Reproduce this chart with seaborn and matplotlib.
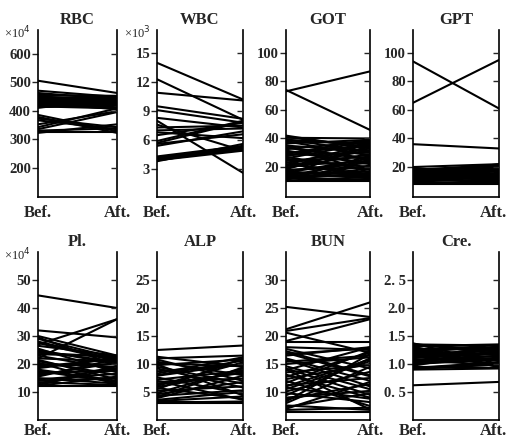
import pandas as pd
import numpy as np
import matplotlib
matplotlib.use("Agg")
import matplotlib.pyplot as plt
import matplotlib.transforms as mtransforms
import seaborn as sns

# Values before / after for each panel
rbc_bef = [505, 470, 462, 455, 450, 447, 444, 441, 438, 436, 433, 430, 428, 425, 422,
           420, 417, 415, 412, 410, 385, 378, 372, 366, 352, 342, 335, 330, 326, 322,
           448, 443, 437, 431, 427, 421, 416, 413]
rbc_aft = [462, 448, 440, 452, 436, 445, 430, 450, 425, 441, 418, 438, 446, 412, 434,
           428, 444, 408, 426, 440, 328, 322, 342, 335, 398, 408, 395, 338, 326, 352,
           432, 448, 421, 443, 405, 437, 449, 420]

wbc_bef = [14.0, 12.3, 10.9, 9.5, 9.1, 8.3, 8.0, 7.6, 7.3, 7.0, 6.8, 6.5, 5.9, 5.7,
           5.6, 5.4, 4.3, 4.2, 4.1, 4.0, 3.9, 3.9, 3.8]
wbc_aft = [10.2, 8.1, 10.1, 8.2, 7.8, 7.3, 2.6, 4.9, 7.5, 7.2, 6.2, 7.8, 8.0, 7.9,
           6.6, 6.9, 5.4, 5.2, 5.0, 5.3, 5.1, 4.9, 5.6]

got_bef = [73, 74, 42, 40.5, 39, 38, 36.5, 35, 34, 32.5, 31, 30, 28.5, 27, 26, 24.5,
           23, 22, 21, 19.5, 18, 17, 16, 15, 14, 13, 12.5, 11.5, 10.5, 10,
           41, 37.5, 33.5, 29, 25.5, 20.5, 17.5, 14.5, 12, 11, 39.5, 35.5, 27.5, 23.5,
           18.5, 13.5, 10.2, 31.5, 21.5, 16.5]
got_aft = [87, 46, 33, 40, 36, 28, 39, 31, 25, 38, 22, 35, 30, 18, 37, 27, 33, 15,
           24, 29, 20, 12, 26, 17, 14, 21, 11, 16, 13, 10,
           34, 37, 26, 39.5, 20, 32, 23, 35, 19, 28, 30.5, 16, 38.5, 12.5,
           34.5, 25, 11.5, 22.5, 36, 14.5]

gpt_bef = [94, 65, 36, 20, 19, 18.5, 17.5, 17, 16, 15.5, 14.5, 14, 13, 12.5, 11.5,
           11, 10, 9.5, 8.5, 8, 19.5, 18, 16.5, 15, 13.5, 12, 10.5, 9, 8.2, 17.8,
           14.8, 11.2]
gpt_aft = [61, 95, 33, 22, 15, 19, 12, 21, 17, 10, 20, 14, 18, 9, 16, 13, 11, 19.5,
           8.5, 8, 13.5, 21.5, 9.5, 18.5, 20.5, 15.5, 12.5, 17.5, 10.5, 11.5,
           22, 14.5]

pl_bef = [44.5, 32, 27, 22, 30, 29, 28, 26.5, 25, 24, 23, 22, 21, 20, 19, 18, 17, 16,
          15, 14, 13.5, 12.5, 12, 29.5, 27.5, 25.5, 23.5, 21.5, 19.5, 17.5, 15.5,
          14.5, 13, 12.2, 20.5, 18.5, 16.5, 24.5]
pl_aft = [40, 29.5, 36, 36, 23, 22, 21.5, 23, 20, 22.5, 18, 21, 16, 19, 22, 14, 17.5,
          20.5, 13, 15, 12.5, 18.5, 12, 19.5, 21, 17, 22.8, 14.5, 20, 13.5, 21.8,
          16.5, 19.2, 15.5, 12.8, 22, 18, 20.8]

alp_bef = [12.5, 11.3, 11.0, 10.4, 9.8, 9.5, 8.7, 8.3, 7.6, 7.2, 6.8, 6.1, 5.7, 5.2,
           4.8, 4.3, 3.9, 3.4, 3.1, 3.0, 10.8, 10.1, 9.2, 8.0, 7.0, 6.4, 5.5, 4.6,
           4.1, 3.6, 9.9, 7.9, 5.9, 3.2]
alp_aft = [13.3, 9.5, 11.5, 8.0, 10.8, 6.5, 9.9, 11.2, 4.7, 8.8, 7.4, 10.3, 3.8, 6.0,
           9.2, 5.3, 7.9, 4.2, 3.3, 3.0, 7.0, 9.6, 5.8, 10.6, 3.6, 8.4, 11.0, 6.8,
           9.4, 5.0, 4.4, 10.0, 8.6, 3.2]

bun_bef = [25.2, 21.2, 20.9, 20.6, 19.1, 18.9, 18.0, 17.3, 16.5, 15.8, 15.0, 14.2,
           13.5, 12.7, 12.0, 11.2, 10.5, 9.8, 9.0, 8.3, 7.6, 7.0, 6.5,
           17.7, 16.8, 16.0, 15.4, 14.6, 13.9, 13.1, 12.3, 11.6, 10.8, 10.1, 9.4,
           8.7, 8.0, 7.3, 6.8, 17.0, 14.0, 11.0]
bun_aft = [23.4, 26.0, 23.2, 17.0, 23.0, 18.9, 17.5, 13.0, 18.0, 11.0, 16.2, 9.5,
           14.8, 17.0, 7.5, 12.5, 15.5, 8.2, 10.2, 16.8, 6.8, 11.8, 6.5,
           14.2, 17.8, 12.0, 16.5, 10.5, 18.0, 9.0, 15.0, 17.3, 8.8, 13.6, 16.0,
           11.4, 14.5, 9.8, 7.2, 12.8, 6.9, 15.8]

cre_bef = [0.62, 1.37, 1.35, 1.32, 1.30, 1.27, 1.25, 1.22, 1.2, 1.17, 1.15, 1.12,
           1.1, 1.07, 1.05, 1.02, 1.0, 0.97, 0.95, 0.92, 0.9,
           1.36, 1.33, 1.28, 1.23, 1.18, 1.13, 1.08, 1.03, 0.98, 0.93, 1.31, 1.21,
           1.11, 1.01, 0.91]
cre_aft = [0.68, 1.0, 1.33, 1.35, 1.05, 1.28, 0.95, 1.3, 1.12, 1.25, 1.0, 1.2, 1.32,
           0.98, 1.15, 1.1, 1.08, 1.22, 0.93, 1.02, 0.92,
           1.18, 1.27, 0.97, 1.34, 1.06, 1.29, 1.14, 1.24, 1.31, 1.03, 0.94, 1.17,
           1.26, 1.09, 0.99]

panels = [
    ("RBC", rbc_bef, rbc_aft, (97, 683), [200, 300, 400, 500, 600], None, "×10$^4$"),
    ("WBC", wbc_bef, wbc_aft, (0.1, 17.4), [3, 6, 9, 12, 15], None, "×10$^3$"),
    ("GOT", got_bef, got_aft, (-1, 116), [20, 40, 60, 80, 100], None, None),
    ("GPT", gpt_bef, gpt_aft, (-1, 116), [20, 40, 60, 80, 100], None, None),
    ("Pl.", pl_bef, pl_aft, (0, 60), [10, 20, 30, 40, 50], None, "×10$^4$"),
    ("ALP", alp_bef, alp_aft, (0, 30), [5, 10, 15, 20, 25], None, None),
    ("BUN", bun_bef, bun_aft, (5, 35), [10, 15, 20, 25, 30], None, None),
    ("Cre.", cre_bef, cre_aft, (0, 3), [0.5, 1.0, 1.5, 2.0, 2.5],
     ["0. 5", "1.0", "1.5", "2.0", "2. 5"], None),
]

sns.set_style("ticks")
plt.rcParams['font.family'] = ['Liberation Serif', 'DejaVu Serif']

W, H = 508, 440
fig = plt.figure(figsize=(W / 100, H / 100), dpi=100)

cols = [(38, 117), (157, 243), (286, 370), (413, 499)]
rows = [(30, 197), (252, 420)]

for i, (name, bef, aft, ylim, ticks, ticklabels, mult) in enumerate(panels):
    x1, x2 = cols[i % 4]
    y1, y2 = rows[i // 4]
    ax = fig.add_axes([x1 / W, 1 - y2 / H, (x2 - x1) / W, (y2 - y1) / H])

    df = pd.DataFrame({
        "time": [0] * len(bef) + [1] * len(aft),
        "value": list(bef) + list(aft),
        "subject": list(range(len(bef))) * 2,
    })
    sns.lineplot(data=df, x="time", y="value", units="subject", estimator=None,
                 color="black", lw=1.5, ax=ax)

    ax.set_xlim(0, 1)
    ax.set_ylim(*ylim)
    ax.set_xticks([0, 1])
    ax.set_xticklabels(["Bef.", "Aft."], fontsize=12, fontweight="bold")
    ax.tick_params(axis="x", length=0, pad=6 if i < 4 else 2)
    if i % 4 == 3:
        aft_lab = ax.get_xticklabels()[1]
        aft_lab.set_ha("right")
        aft_lab.set_transform(aft_lab.get_transform() +
                              mtransforms.ScaledTranslation(8 / 100, 0, fig.dpi_scale_trans))
    ax.set_yticks(ticks)
    if ticklabels:
        ax.set_yticklabels(ticklabels)
    ax.tick_params(axis="y", direction="out", length=4, width=1, labelsize=10.5, pad=1)
    for lab in ax.get_yticklabels():
        lab.set_fontweight("bold")
    ax.set_xlabel("")
    ax.set_ylabel("")
    ax.spines["top"].set_visible(False)
    for s in ["left", "right", "bottom"]:
        ax.spines[s].set_linewidth(1.2)
        ax.spines[s].set_color("black")

    # inward ticks on the right axis
    ax2 = ax.twinx()
    ax2.set_ylim(*ylim)
    ax2.set_yticks(ticks)
    ax2.tick_params(axis="y", direction="in", length=4, width=1, labelright=False)
    for s in ax2.spines.values():
        s.set_visible(False)

    ax.set_title(name, fontsize=12, fontweight="bold", pad=4)
    if mult:
        ax.annotate(mult, xy=(0, 1), xycoords="axes fraction", xytext=(-5, -2),
                    textcoords="offset points", ha="right", va="center", fontsize=9)

fig.savefig("out.png", dpi=100)
